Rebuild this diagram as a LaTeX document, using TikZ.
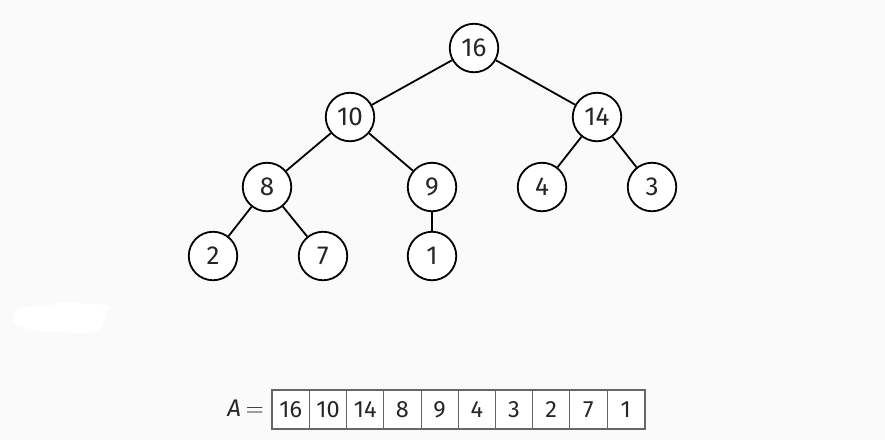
\documentclass[tikz,border=0pt]{standalone}
\usepackage{fontspec}
\setmainfont{Fira Sans}
\begin{document}
\begin{tikzpicture}[x=1pt,y=-1pt,
  heapnode/.style={circle,draw=black,line width=1.8pt,fill=white,minimum size=48.5pt,inner sep=0pt,
    text=black!85,font=\fontsize{26}{26}\selectfont},
  heapedge/.style={line width=1.8pt,black},
  cell/.style={rectangle,draw=black!60,line width=1pt,fill=white,minimum width=37.2pt,minimum height=38pt,
    inner sep=0pt,text=black!85,font=\fontsize{23.5}{23.5}\selectfont,anchor=north west}]
\fill[black!2] (0,0) rectangle (885,440);
\useasboundingbox (0,0) rectangle (885,440);
% light patch on the left
\fill[white,rounded corners=3pt] (14,312) -- (23,307) -- (53,305) -- (57,302) -- (110,305) -- (100,332) -- (87,333) -- (40,332) -- (13,325) -- cycle;

% heap tree
\node[heapnode] (n1) at (474,48) {16};
\node[heapnode] (n2) at (350,117) {10};
\node[heapnode] (n3) at (597,117) {14};
\node[heapnode] (n4) at (267,187) {8};
\node[heapnode] (n5) at (432,187) {9};
\node[heapnode] (n6) at (542,187) {4};
\node[heapnode] (n7) at (652,187) {3};
\node[heapnode] (n8) at (213,256) {2};
\node[heapnode] (n9) at (323,256) {7};
\node[heapnode] (n10) at (432,256) {1};
\foreach \p/\c in {n1/n2,n1/n3,n2/n4,n2/n5,n3/n6,n3/n7,n4/n8,n4/n9,n5/n10}
  \draw[heapedge] (\p) -- (\c);

% array
\foreach \v [count=\i] in {16,10,14,8,9,4,3,2,7,1}
  \node[cell] (a\i) at ({271.7+37.2*(\i-1)},390) {\v};
\draw[black!60,line width=1.6pt] (a1.north west) rectangle (a10.south east);
\node[anchor=base east,text=black!85,font=\fontsize{24}{24}\selectfont,inner sep=0pt] (lab) at (264,416.5)
  {\textit{A}\hspace{5pt}$=$};
\end{tikzpicture}
\end{document}
